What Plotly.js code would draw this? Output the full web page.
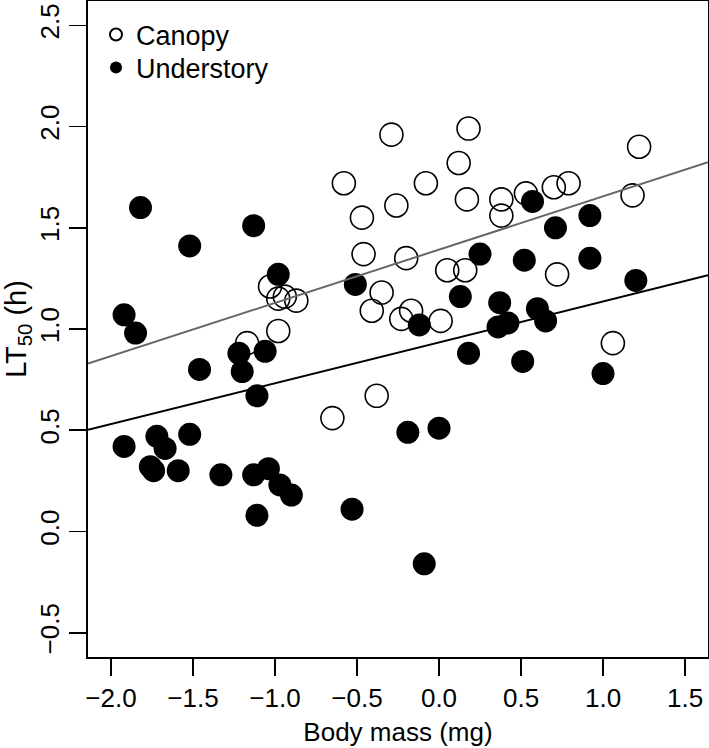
<!DOCTYPE html>
<html>
<head>
<meta charset="utf-8">
<script src="https://cdn.plot.ly/plotly-3.0.1.min.js"></script>
<style>html,body{margin:0;padding:0;background:#fff;}#chart{width:709px;height:748px;}</style>
</head>
<body>
<div id="chart"></div>
<script>
// Canopy (open circles)
var canopyMass = [-1.03, -0.98, -0.94, -0.87, -0.98, -1.17, -0.65, -0.38, -0.58, -0.47, -0.46, -0.29, -0.26, -0.20, -0.08, 0.12, 0.18, 0.17, 0.38, 0.38, 0.53, 0.70, 0.79, 1.22, 1.18, 0.72, 1.06, -0.35, -0.41, -0.23, -0.17, 0.01, 0.05, 0.16];
var canopyLT50 = [1.21, 1.15, 1.16, 1.14, 0.99, 0.93, 0.56, 0.67, 1.72, 1.55, 1.37, 1.96, 1.61, 1.35, 1.72, 1.82, 1.99, 1.64, 1.64, 1.56, 1.67, 1.70, 1.72, 1.90, 1.66, 1.27, 0.93, 1.18, 1.09, 1.05, 1.09, 1.04, 1.29, 1.29];
// Understory (filled circles)
var underMass = [-1.92, -1.85, -1.82, -1.52, -1.13, -0.98, -1.22, -1.06, -1.46, -1.20, -1.11, -1.92, -1.72, -1.67, -1.52, -1.76, -1.74, -1.59, -1.33, -1.13, -1.04, -0.97, -0.90, -1.11, -0.53, -0.09, -0.19, 0.00, 0.18, 0.51, 1.00, -0.51, -0.12, 0.13, 0.25, 0.37, 0.36, 0.42, 0.60, 0.65, 0.57, 0.71, 0.92, 0.52, 0.92, 1.20];
var underLT50 = [1.07, 0.98, 1.60, 1.41, 1.51, 1.27, 0.88, 0.89, 0.80, 0.79, 0.67, 0.42, 0.47, 0.41, 0.48, 0.32, 0.30, 0.30, 0.28, 0.28, 0.31, 0.23, 0.18, 0.08, 0.11, -0.16, 0.49, 0.51, 0.88, 0.84, 0.78, 1.22, 1.02, 1.16, 1.37, 1.13, 1.01, 1.03, 1.10, 1.04, 1.63, 1.50, 1.56, 1.34, 1.35, 1.24];
// Fitted regression lines: [Canopy, Understory]
var fitNames = ['Canopy fit', 'Understory fit'];
var fitIntercept = [1.392, 0.934];
var fitSlope = [0.263, 0.202];
var fitColors = ['#666666', '#000000'];
// Axis tick values
var xTicks = [-2.0, -1.5, -1.0, -0.5, 0.0, 0.5, 1.0, 1.5];
var yTicks = [-0.5, 0.0, 0.5, 1.0, 1.5, 2.0, 2.5];

var xRange = [-2.14, 1.64];
var yRange = [-0.62, 2.62];

var FONT = 'Liberation Sans, Arial, Helvetica, sans-serif';

var traces = [
  {
    x: canopyMass, y: canopyLT50, type: 'scatter', mode: 'markers', name: 'Canopy',
    legend: 'legend',
    marker: {symbol: 'circle-open', size: 23, color: '#000', line: {width: 1.6, color: '#000'}}
  },
  {
    x: underMass, y: underLT50, type: 'scatter', mode: 'markers', name: 'Understory',
    legend: 'legend2',
    marker: {symbol: 'circle', size: 23, color: '#000', line: {width: 0}}
  }
];
for (var i = 0; i < fitSlope.length; i++) {
  traces.push({
    x: xRange.slice(),
    y: xRange.map(function (xv) { return fitIntercept[i] + fitSlope[i] * xv; }),
    type: 'scatter', mode: 'lines', name: fitNames[i], showlegend: false,
    line: {color: fitColors[i], width: 2}, hoverinfo: 'skip'
  });
}

var axisCommon = {
  showgrid: false, zeroline: false, showline: true, mirror: true,
  linecolor: '#000', linewidth: 2,
  ticks: 'outside', ticklen: 17, tickwidth: 1.6, tickcolor: '#000',
  tickformat: '.1f',
  tickfont: {family: FONT, size: 26, color: '#000'}
};

var legendCommon = {
  xanchor: 'left', yanchor: 'middle',
  bgcolor: 'rgba(0,0,0,0)', borderwidth: 0,
  itemsizing: 'constant',
  font: {family: FONT, size: 27, color: '#000'}
};

var layout = {
  width: 709, height: 748,
  margin: {l: 88, r: 1, t: 1, b: 91, pad: 0},
  paper_bgcolor: '#fff', plot_bgcolor: '#fff',
  font: {family: FONT, size: 26, color: '#000'},
  showlegend: true,
  legend: Object.assign({}, legendCommon, {x: 0.0129, y: 0.9482}),
  legend2: Object.assign({}, legendCommon, {x: 0.0129, y: 0.8979}),
  xaxis: Object.assign({}, axisCommon, {
    range: xRange, tickmode: 'array', tickvals: xTicks,
    title: {text: 'Body mass (mg)', font: {family: FONT, size: 26, color: '#000'}, standoff: 11}
  }),
  yaxis: Object.assign({}, axisCommon, {
    range: yRange, tickmode: 'array', tickvals: yTicks, tickangle: -90,
    title: {text: 'LT<sub>50</sub> (h)', font: {family: FONT, size: 29, color: '#000'}, standoff: 16}
  })
};

Plotly.newPlot('chart', traces, layout, {staticPlot: true, displayModeBar: false});
</script>
</body>
</html>
